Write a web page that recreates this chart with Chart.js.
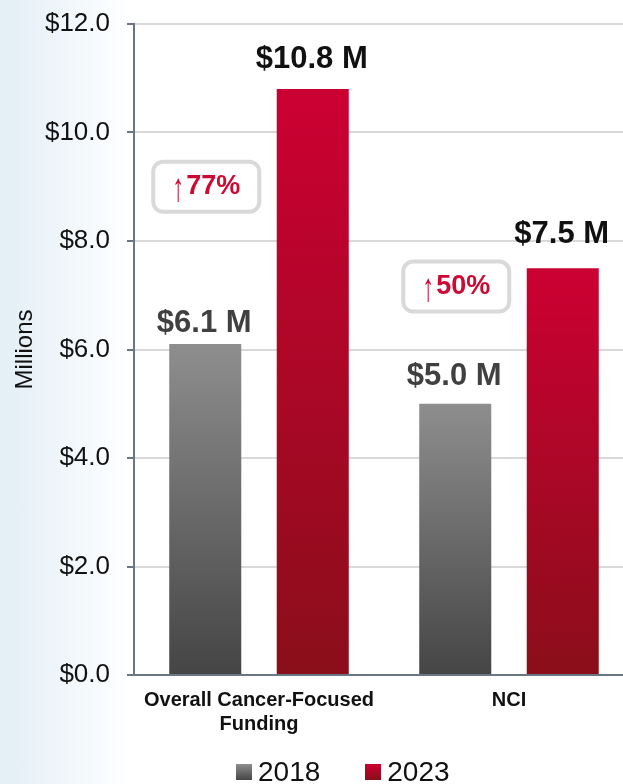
<!DOCTYPE html>
<html>
<head>
<meta charset="utf-8">
<script src="https://cdn.jsdelivr.net/npm/chart.js@4/dist/chart.umd.min.js"></script>
<style>
  html, body { margin: 0; padding: 0; overflow: hidden; }
  body {
    width: 623px;
    height: 784px;
    position: relative;
    background: linear-gradient(90deg, #e3eef6 0px, #f1f7fb 70px, #ffffff 128px);
    font-family: "Liberation Sans", Arial, sans-serif;
  }
  #wrap { position: absolute; left: 0; top: 0; width: 634px; height: 784px; }
  #legend {
    position: absolute; left: 236px; top: 755px;
    display: flex; align-items: center; gap: 45px;
    font-size: 28px; line-height: 34px; color: #111;
  }
  #legend .item { display: flex; align-items: center; }
  #legend .box { width: 16px; height: 16px; margin-right: 6px; }
</style>
</head>
<body>
<div id="wrap"><canvas id="chart" width="634" height="784"></canvas></div>
<div id="legend"></div>
<script>
// chart data
const categories = [['Overall Cancer-Focused', 'Funding'], 'NCI'];
const years = ['2018', '2023'];
const funding2018 = [6.1, 5.0];
const funding2023 = [10.8, 7.5];
const changeLabels = ['77%', '50%'];
const yTicks = [0, 2, 4, 6, 8, 10, 12];

// colours (top of bar -> bottom of bar)
const grayStops = ['#8e8e8e', '#454545'];
const redStops = ['#cc0033', '#8a0e1a'];

Chart.defaults.font.family = '"Liberation Sans", Arial, sans-serif';

// barGradient
// Gives each bar its own vertical gradient, from its top down to the axis
function barGradient(stops) {
  return function(context) {
    const chart = context.chart;
    const area = chart.chartArea;
    if (!area || context.parsed == null) return stops[1];
    const top = chart.scales.y.getPixelForValue(context.parsed.y);
    const g = chart.ctx.createLinearGradient(0, top, 0, area.bottom);
    g.addColorStop(0, stops[0]);
    g.addColorStop(1, stops[1]);
    return g;
  };
}

// "$6.1 M" style labels above each bar
const valueLabels = {
  id: 'valueLabels',
  afterDatasetsDraw(chart, args, opts) {
    const ctx = chart.ctx;
    ctx.save();
    ctx.font = 'bold 31px "Liberation Sans", Arial, sans-serif';
    ctx.textAlign = 'center';
    ctx.textBaseline = 'middle';
    chart.data.datasets.forEach((ds, i) => {
      const meta = chart.getDatasetMeta(i);
      ctx.fillStyle = opts.colors[i];
      meta.data.forEach((bar, j) => {
        ctx.fillText('$' + ds.data[j].toFixed(1) + ' M', bar.x - 1, bar.y - opts.lift[i][j]);
      });
    });
    ctx.restore();
  }
};

// rounded boxes with the percent change
const changeBadges = {
  id: 'changeBadges',
  afterDatasetsDraw(chart, args, opts) {
    const ctx = chart.ctx;
    const meta = chart.getDatasetMeta(0);
    const yScale = chart.scales.y;
    const arrowFont = '40px "Liberation Sans", Arial, sans-serif';
    const numFont = 'bold 27px "Liberation Sans", Arial, sans-serif';
    const squeeze = 0.6; // the arrow is tall and narrow in the original
    changeLabels.forEach((txt, i) => {
      const cx = meta.data[i].x + 1;
      const cy = yScale.getPixelForValue(opts.at[i]);
      const w = 106, h = 50;
      ctx.save();
      ctx.beginPath();
      ctx.roundRect(cx - w / 2, cy - h / 2, w, h, 10);
      ctx.fillStyle = '#ffffff';
      ctx.fill();
      ctx.lineWidth = 4;
      ctx.strokeStyle = '#d9d9d9';
      ctx.stroke();

      ctx.font = arrowFont;
      const aw = ctx.measureText('\u2191').width * squeeze;
      ctx.font = numFont;
      const nw = ctx.measureText(txt).width;
      const x = cx - (aw + nw + 2) / 2;
      ctx.fillStyle = '#cc0a33';
      ctx.textAlign = 'left';
      ctx.textBaseline = 'middle';
      ctx.font = numFont;
      ctx.fillText(txt, x + aw + 2, cy);
      ctx.translate(x, cy + 3);
      ctx.scale(squeeze, 1);
      ctx.font = arrowFont;
      ctx.fillText('\u2191', 0, 0);
      ctx.restore();
    });
  }
};

// legend built as html under the chart
const htmlLegend = {
  id: 'htmlLegend',
  afterUpdate(chart) {
    const box = document.getElementById('legend');
    box.innerHTML = '';
    chart.data.datasets.forEach(ds => {
      const item = document.createElement('div');
      item.className = 'item';
      const sw = document.createElement('span');
      sw.className = 'box';
      sw.style.background = 'linear-gradient(' + ds.stops[0] + ', ' + ds.stops[1] + ')';
      const label = document.createElement('span');
      label.textContent = ds.label;
      item.appendChild(sw);
      item.appendChild(label);
      box.appendChild(item);
    });
  }
};

const axisGray = '#6b7684';

new Chart(document.getElementById('chart'), {
  type: 'bar',
  data: {
    labels: categories,
    datasets: [
      { label: years[0], data: funding2018, stops: grayStops, backgroundColor: barGradient(grayStops) },
      { label: years[1], data: funding2023, stops: redStops, backgroundColor: barGradient(redStops) }
    ]
  },
  options: {
    responsive: false,
    animation: false,
    layout: { padding: { top: 24, bottom: 35, left: 0, right: 0 } },
    datasets: { bar: { categoryPercentage: 0.86, barPercentage: 0.67 } },
    plugins: {
      legend: { display: false },
      tooltip: { enabled: false },
      valueLabels: { colors: ['#404040', '#111111'], lift: [[21, 27], [30, 34]] },
      changeBadges: { at: [9.0, 7.16] }
    },
    scales: {
      x: {
        grid: { display: false, drawTicks: false },
        border: { color: axisGray, width: 2 },
        ticks: { padding: 13, color: '#111', font: { size: 20, weight: 'bold' }, maxRotation: 0, autoSkip: false }
      },
      y: {
        min: 0,
        max: 12,
        afterBuildTicks: s => { s.ticks = yTicks.map(v => ({ value: v })); },
        afterFit: s => { s.width = 134; },
        // small lineHeight so the top label does not push the plot down
        ticks: { padding: 17, color: '#111', font: { size: 26, lineHeight: 0.5 }, callback: v => '$' + v.toFixed(1) },
        grid: { color: '#d9d9d9', lineWidth: 2, tickLength: 7, tickColor: axisGray, tickWidth: 2 },
        border: { color: axisGray, width: 2 },
        title: { display: true, text: 'Millions', color: '#111', font: { size: 24 }, padding: { top: 11, bottom: 0 } }
      }
    }
  },
  plugins: [valueLabels, changeBadges, htmlLegend]
});
</script>
</body>
</html>
